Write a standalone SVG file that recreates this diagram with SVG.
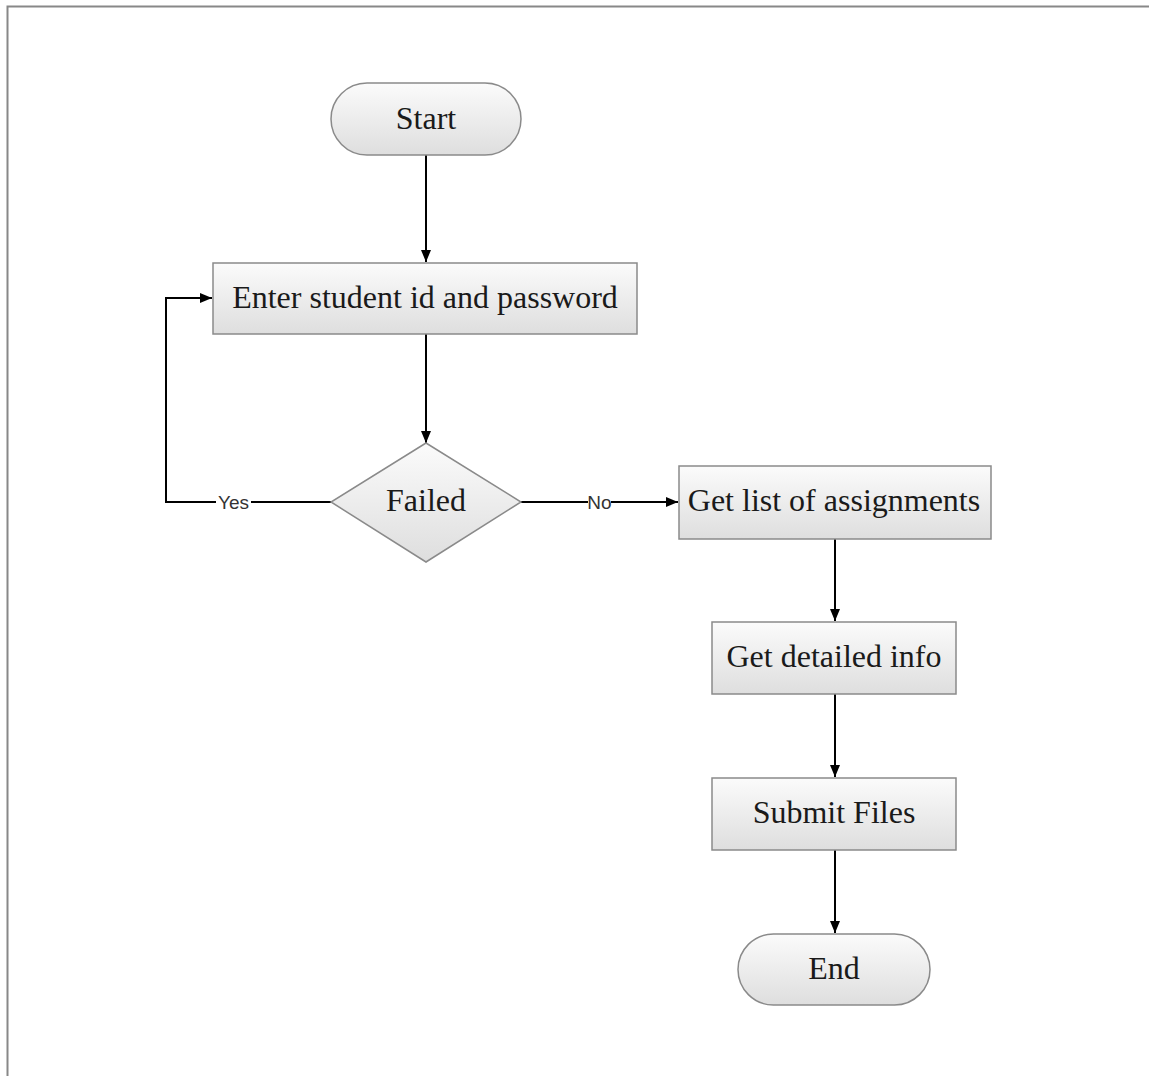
<svg xmlns="http://www.w3.org/2000/svg" width="1149" height="1076" viewBox="0 0 1149 1076">
  <defs>
    <linearGradient id="fillGrad" x1="0" y1="0" x2="0" y2="1">
      <stop offset="0" stop-color="#fbfbfb"/>
      <stop offset="1" stop-color="#dedede"/>
    </linearGradient>
    <marker id="arrow" viewBox="0 0 12 10" refX="12" refY="5" markerWidth="12" markerHeight="10" markerUnits="userSpaceOnUse" orient="auto">
      <path d="M0,0 L12,5 L0,10 z" fill="#000"/>
    </marker>
    <style>
      .shape { fill: url(#fillGrad); stroke: #8a8a8a; stroke-width: 1.5; }
      .label { font-family: "Liberation Serif", "Times New Roman", serif; font-size: 32px; fill: #1a1a1a; text-anchor: middle; dominant-baseline: central; }
      .edge { fill: none; stroke: #000; stroke-width: 2; }
      .edge-label { font-family: "Liberation Sans", Arial, sans-serif; font-size: 19px; fill: #333; text-anchor: middle; dominant-baseline: central; }
      .frame { fill: none; stroke: #888; stroke-width: 2; }
    </style>
  </defs>

  <rect width="1149" height="1076" fill="#fff"/>
  <!-- page frame -->
  <path class="frame" d="M7.5,1076 L7.5,6.5 L1149,6.5"/>

  <g id="connectors">
    <line class="edge" x1="426" y1="155" x2="426" y2="262" marker-end="url(#arrow)"/>
    <line class="edge" x1="426" y1="334" x2="426" y2="443" marker-end="url(#arrow)"/>
    <path class="edge" d="M331,502 L166,502 L166,298 L212,298" marker-end="url(#arrow)"/>
    <rect x="216" y="492" width="35" height="20" fill="#fff"/>
    <text class="edge-label" x="233.5" y="502">Yes</text>
    <line class="edge" x1="521" y1="502" x2="678" y2="502" marker-end="url(#arrow)"/>
    <rect x="588" y="492" width="23" height="20" fill="#fff"/>
    <text class="edge-label" x="599.5" y="502">No</text>
    <line class="edge" x1="835" y1="539" x2="835" y2="621" marker-end="url(#arrow)"/>
    <line class="edge" x1="835" y1="694" x2="835" y2="777" marker-end="url(#arrow)"/>
    <line class="edge" x1="835" y1="850" x2="835" y2="933" marker-end="url(#arrow)"/>
  </g>

  <g id="start">
    <rect class="shape" x="331" y="83" width="190" height="72" rx="36" ry="36"/>
    <text class="label" x="426" y="118">Start</text>
  </g>

  <g id="enter-credentials">
    <rect class="shape" x="213" y="263" width="424" height="71"/>
    <text class="label" x="425" y="297">Enter student id and password</text>
  </g>

  <g id="failed">
    <polygon class="shape" points="426,443 521,502 426,562 331,502"/>
    <text class="label" x="426" y="500">Failed</text>
  </g>

  <g id="get-list">
    <rect class="shape" x="679" y="466" width="312" height="73"/>
    <text class="label" x="834" y="500">Get list of assignments</text>
  </g>

  <g id="get-detailed">
    <rect class="shape" x="712" y="622" width="244" height="72"/>
    <text class="label" x="834" y="656">Get detailed info</text>
  </g>

  <g id="submit-files">
    <rect class="shape" x="712" y="778" width="244" height="72"/>
    <text class="label" x="834" y="812">Submit Files</text>
  </g>

  <g id="end">
    <rect class="shape" x="738" y="934" width="192" height="71" rx="35.5" ry="35.5"/>
    <text class="label" x="834" y="968">End</text>
  </g>
</svg>
